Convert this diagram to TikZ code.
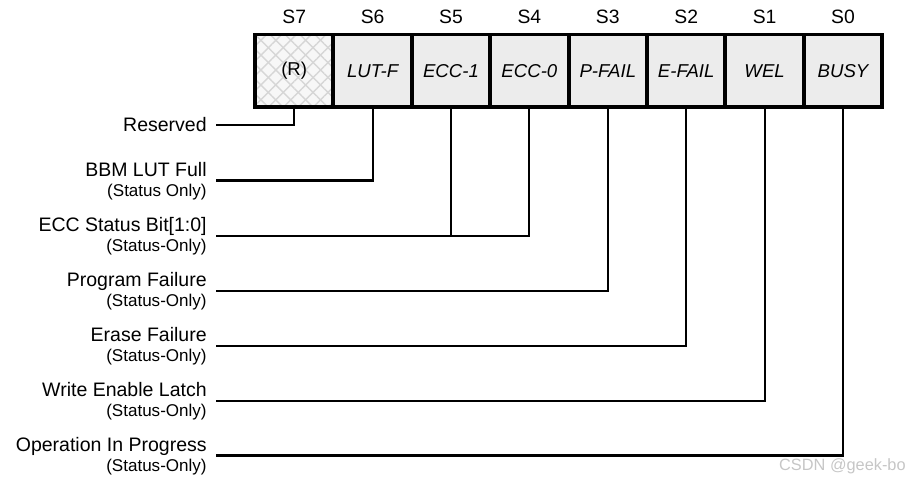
\documentclass[tikz,border=0pt]{standalone}
\usepackage{fontspec}
\setmainfont{Liberation Sans}
\usetikzlibrary{patterns.meta}

\begin{document}
\begin{tikzpicture}[
  x=0.02cm, y=-0.02cm,
  cellbase/.style={draw, line width=2.2pt, inner sep=0pt, outer sep=0pt,
               minimum width=1.568cm, minimum height=1.45cm,
               font=\fontsize{10.6}{12}\selectfont},
  cell/.style={cellbase, fill=gray!15, font=\fontsize{10.6}{12}\selectfont\itshape},
  rsvd/.style={cellbase,
               preaction={fill=gray!6},
               preaction={pattern={Lines[angle=45, distance=6pt, line width=0.8pt]},
                           pattern color=gray!32},
               preaction={pattern={Lines[angle=-45, distance=6pt, line width=0.8pt]},
                           pattern color=gray!32}},
  bitno/.style={anchor=base, font=\fontsize{11}{13}\selectfont},
  lbl/.style={anchor=base east, inner sep=0pt, font=\fontsize{11.1}{13}\selectfont},
  sub/.style={anchor=base east, inner sep=0pt, font=\fontsize{9.7}{11}\selectfont},
  wire/.style={line width=1.15pt}
]
\useasboundingbox (0,0) rectangle (911,480);

% register cells
\node[rsvd] (b7) at (294.2, 70.75) {(R)};
\node[cell] (b6) at (372.6, 70.75) {LUT-F};
\node[cell] (b5) at (451.0, 70.75) {ECC-1};
\node[cell] (b4) at (529.4, 70.75) {ECC-0};
\node[cell] (b3) at (607.8, 70.75) {P-FAIL};
\node[cell] (b2) at (686.2, 70.75) {E-FAIL};
\node[cell] (b1) at (764.6, 70.75) {WEL};
\node[cell] (b0) at (843.0, 70.75) {BUSY};

% bit numbers
\node[bitno] (s7) at (294.2, 23) {S7};
\node[bitno] (s6) at (372.6, 23) {S6};
\node[bitno] (s5) at (451.0, 23) {S5};
\node[bitno] (s4) at (529.4, 23) {S4};
\node[bitno] (s3) at (607.8, 23) {S3};
\node[bitno] (s2) at (686.2, 23) {S2};
\node[bitno] (s1) at (764.6, 23) {S1};
\node[bitno] (s0) at (843.0, 23) {S0};

% line ends
\coordinate (e7) at (216, 125.0);
\coordinate (e6) at (216, 180.5);
\coordinate (e5) at (216, 235.7);
\coordinate (e3) at (216, 290.7);
\coordinate (e2) at (216, 345.7);
\coordinate (e1) at (216, 400.7);
\coordinate (e0) at (216, 455.5);

% descriptions
\node[lbl] (lres) at (207, 131) {Reserved};
\node[lbl] (llut) at (207, 176.5) {BBM LUT Full};
\node[sub] (llutS) at (207, 196.5) {(Status Only)};
\node[lbl] (lecc) at (207, 231.5) {ECC Status Bit[1:0]};
\node[sub] (leccS) at (207, 251.5) {(Status-Only)};
\node[lbl] (lpf) at (207, 286.5) {Program Failure};
\node[sub] (lpfS) at (207, 306.5) {(Status-Only)};
\node[lbl] (lef) at (207, 341.5) {Erase Failure};
\node[sub] (lefS) at (207, 361.5) {(Status-Only)};
\node[lbl] (lwel) at (207, 396.5) {Write Enable Latch};
\node[sub] (lwelS) at (207, 416.5) {(Status-Only)};
\node[lbl] (lbusy) at (207, 451.5) {Operation In Progress};
\node[sub] (lbusyS) at (207, 471.5) {(Status-Only)};

% connectors
\draw[wire] (b7.south) |- (e7);
\draw[wire] (b6.south) |- (e6);
\draw[wire] (b5.south) |- (e5);
\draw[wire] (b4.south) |- (e5);
\draw[wire] (b3.south) |- (e3);
\draw[wire] (b2.south) |- (e2);
\draw[wire] (b1.south) |- (e1);
\draw[wire] (b0.south) |- (e0);

\node[anchor=base east, inner sep=0pt, text=gray!45,
      font=\fontsize{9.3}{11}\selectfont] (wm) at (906, 470) {CSDN @geek-bo};

\end{tikzpicture}
\end{document}
